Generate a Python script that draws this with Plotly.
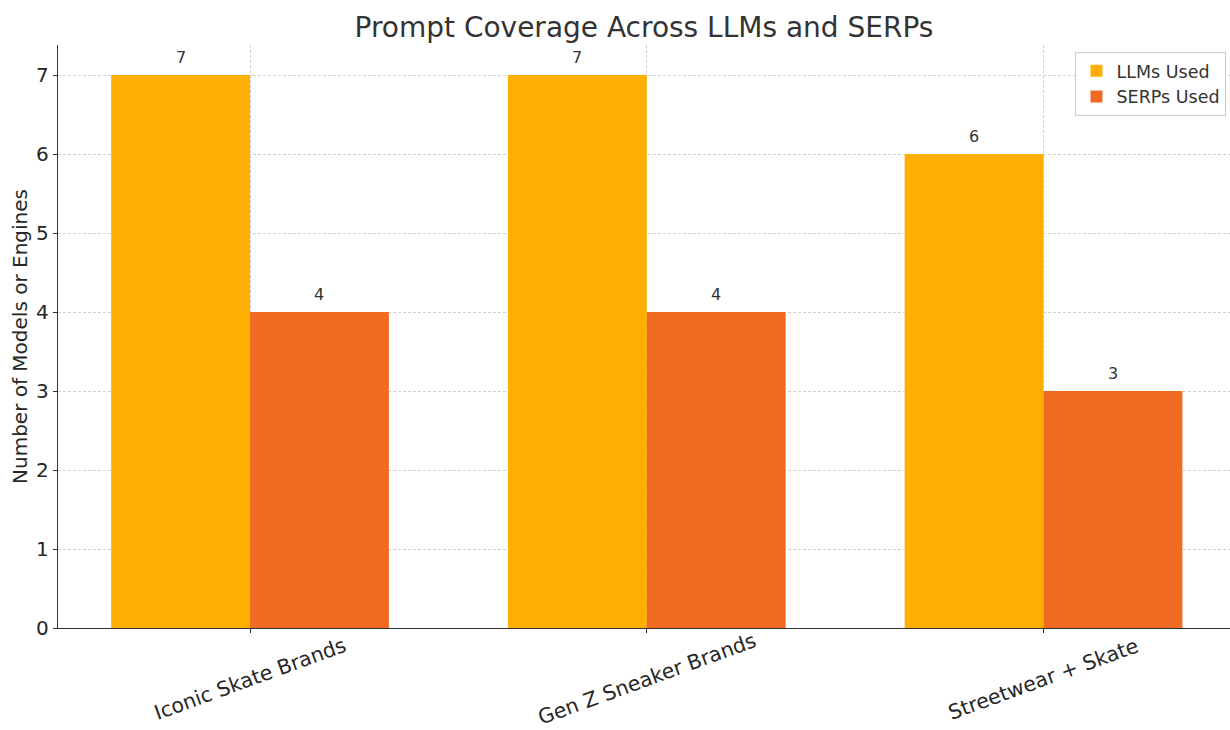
import plotly.graph_objects as go

categories = ["Iconic Skate Brands", "Gen Z Sneaker Brands", "Streetwear + Skate"]
llms_used = [7, 7, 6]
serps_used = [4, 4, 3]
series_names = ["LLMs Used", "SERPs Used"]
colors = ["#FFAF00", "#F06A22"]
yticks = [0, 1, 2, 3, 4, 5, 6, 7]

font = "DejaVu Sans, Verdana, sans-serif"
idx = list(range(len(categories)))
w = 0.35

fig = go.Figure()
fig.add_trace(go.Bar(x=[i - w / 2 for i in idx], y=llms_used, width=w, name=series_names[0],
                     marker=dict(color=colors[0], line=dict(width=0))))
fig.add_trace(go.Bar(x=[i + w / 2 for i in idx], y=serps_used, width=w, name=series_names[1],
                     marker=dict(color=colors[1], line=dict(width=0))))

annotations = []
for i in idx:
    annotations.append(dict(x=i - w / 2, y=llms_used[i], text=str(llms_used[i]), showarrow=False,
                            yshift=18, font=dict(size=16, color="#333333", family=font)))
    annotations.append(dict(x=i + w / 2, y=serps_used[i], text=str(serps_used[i]), showarrow=False,
                            yshift=18, font=dict(size=16, color="#333333", family=font)))
    annotations.append(dict(x=i, y=0, text=categories[i], showarrow=False, textangle=-20,
                            yshift=-51, borderpad=0,
                            font=dict(size=20.5, color="#262626", family=font)))

fig.update_layout(
    width=1230, height=730,
    margin=dict(l=58, r=0, t=45, b=102),
    paper_bgcolor="white", plot_bgcolor="white",
    barmode="overlay",
    title=dict(text="Prompt Coverage Across LLMs and SERPs", x=0.5, xanchor="center",
               y=1 - 27 / 730, yanchor="middle", xref="paper",
               font=dict(size=28, color="#333333", family=font)),
    font=dict(family=font, color="#333333"),
    showlegend=True,
    legend=dict(x=0.997, y=0.988, xanchor="right", yanchor="top", bgcolor="white",
                bordercolor="#CCCCCC", borderwidth=1, font=dict(size=17.5, color="#333333", family=font)),
    annotations=annotations,
)
fig.update_xaxes(
    range=[-0.484, 2.47], tickvals=idx, showticklabels=False, ticks="outside", ticklen=4,
    tickcolor="#333333", showgrid=True, gridcolor="#D0D0D0", griddash="3px,2px", gridwidth=1,
    showline=True, linecolor="#333333", linewidth=1.3, zeroline=False,
)
fig.update_yaxes(
    range=[0, 7.38], tickvals=yticks, ticks="outside", ticklen=4, tickcolor="#333333",
    tickfont=dict(size=20, color="#262626", family=font),
    showgrid=True, gridcolor="#D0D0D0", griddash="3px,2px", gridwidth=1,
    showline=True, linecolor="#333333", linewidth=1.3, zeroline=False,
    title=dict(text="Number of Models or Engines", font=dict(size=20, color="#262626", family=font),
               standoff=3),
)
fig.write_html("out.html")
